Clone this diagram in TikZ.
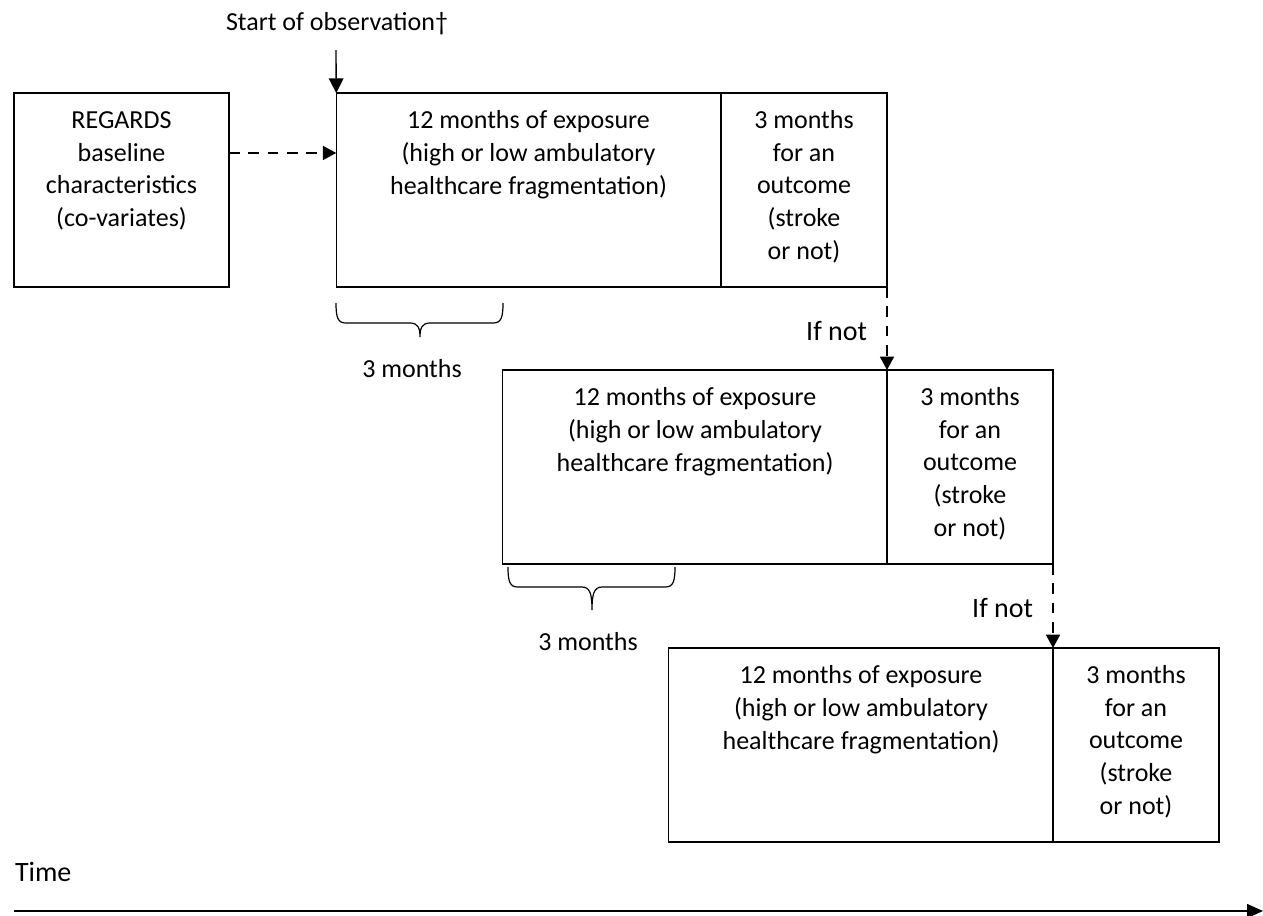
\documentclass[tikz,border=0pt]{standalone}
\usepackage{fontspec}
\setmainfont{Carlito}
\usetikzlibrary{arrows.meta,calc}
\begin{document}
\begin{tikzpicture}[x=0.75pt,y=-0.75pt,
  every node/.style={font=\fontsize{19.5}{24.4}\selectfont, inner sep=0pt, outer sep=0pt},
  bigfont/.style={font=\fontsize{21}{25}\selectfont},
  box/.style={draw, line width=1.1pt, rectangle},
  regbox/.style={box, minimum width=161.25pt, minimum height=145.5pt},
  expbox/.style={box, minimum width=288.375pt, minimum height=145.5pt},
  outbox/.style={box, minimum width=124.5pt, minimum height=145.5pt},
  txt/.style={align=center, anchor=base},
  solidarrow/.style={line width=1pt, -{Triangle[length=11pt,width=11pt]}},
  dasharrow/.style={line width=1.2pt, dash pattern=on 8pt off 6.5pt, -{Triangle[length=10pt,width=10.5pt]}},
  timearrow/.style={line width=1.2pt, -{Triangle[length=12pt,width=10.5pt]}},
  bracepath/.style={line width=0.9pt},
]
\useasboundingbox (0,0) rectangle (1263,915);

% boxes
\node[regbox] (reg) at (121.5,190) {};
\node[expbox] (e1) at (528.5,190) {};
\node[outbox] (o1) at (804,190) {};
\node[expbox] (e2) at (695,467) {};
\node[outbox] (o2) at (970,467) {};
\node[expbox] (e3) at (861,745) {};
\node[outbox] (o3) at (1136,745) {};

% texts in boxes (base = baseline of last line)
\node[txt] (regt) at ($(reg.north)+(0,133.5)$) {REGARDS\\baseline\\characteristics\\(co-variates)};
\node[txt] (e1t) at ($(e1.north)+(0,101)$) {12 months of exposure\\(high or low ambulatory\\healthcare fragmentation)};
\node[txt] (o1t) at ($(o1.north)+(0,166)$) {3 months\\for an\\outcome\\(stroke\\ or not)};
\node[txt] (e2t) at ($(e2.north)+(0,101)$) {12 months of exposure\\(high or low ambulatory\\healthcare fragmentation)};
\node[txt] (o2t) at ($(o2.north)+(0,166)$) {3 months\\for an\\outcome\\(stroke\\ or not)};
\node[txt] (e3t) at ($(e3.north)+(0,101)$) {12 months of exposure\\(high or low ambulatory\\healthcare fragmentation)};
\node[txt] (o3t) at ($(o3.north)+(0,166)$) {3 months\\for an\\outcome\\(stroke\\ or not)};

% labels
\node[txt] (start) at (337,30) {Start of observation†};
\coordinate (startarrow) at (336,50);
\node[txt] (m1) at (412,377) {3 months};
\node[txt] (m2) at (588,650) {3 months};
\node[bigfont, anchor=base east] (if1) at (867,340) {If not};
\node[bigfont, anchor=base east] (if2) at (1033,617) {If not};
\node[bigfont, anchor=base west] (time) at (15,881) {Time};

% connectors
\draw[solidarrow] (startarrow) -- (e1.north west);
\coordinate (dashy) at (0,153);
\draw[dasharrow] (reg.east |- dashy) -- (e1.west |- dashy);
\draw[dasharrow] (o1.south east) -- (o2.north west);
\draw[dasharrow] (o2.south east) -- (o3.north west);
\coordinate (tstart) at (14,911);
\coordinate (tend) at (1263,911);
\draw[timearrow] (tstart) -- (tend);

% braces
\draw[bracepath] (336,303) .. controls (336,318) and (338,323) .. (346,323) -- (410,323)
  .. controls (418,323) and (420,328) .. (420,337)
  .. controls (420,328) and (422,323) .. (430,323) -- (493,323)
  .. controls (501,323) and (503,318) .. (503,303);
\draw[bracepath] (508,567) .. controls (508,582) and (510,587) .. (518,587) -- (582,587)
  .. controls (590,587) and (592,594) .. (592,610)
  .. controls (592,594) and (594,587) .. (602,587) -- (665,587)
  .. controls (673,587) and (675,582) .. (675,567);
\end{tikzpicture}
\end{document}
